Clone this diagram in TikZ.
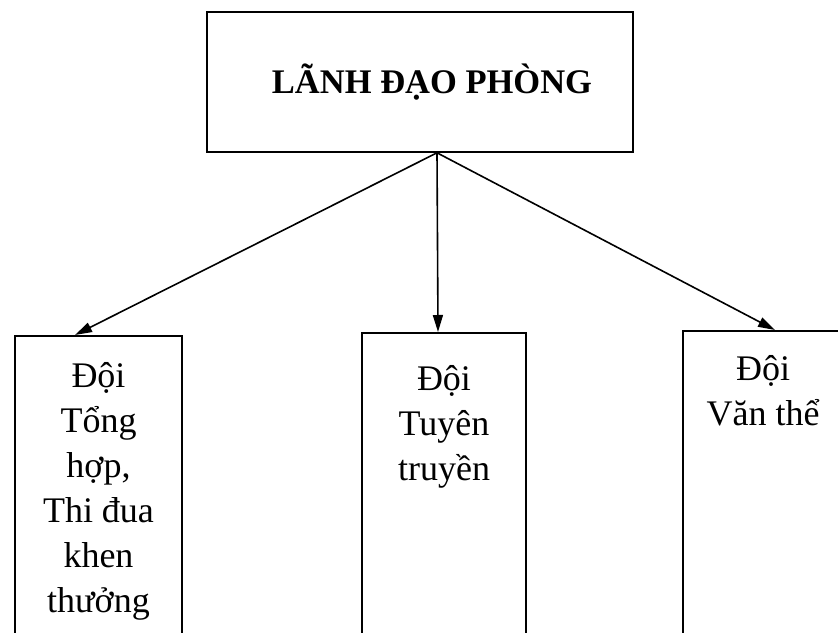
\documentclass[tikz,border=0pt]{standalone}
\usepackage{fontspec}
\setmainfont{Liberation Serif}
\usetikzlibrary{positioning,arrows.meta}

\begin{document}
\begin{tikzpicture}[x=1pt,y=1pt,line width=1.6pt,
    lead/.style={draw,rectangle,minimum width=426pt,minimum height=140pt,inner sep=0pt,font=\fontsize{34.5}{40}\selectfont\bfseries},
    team/.style={draw,rectangle,minimum height=330pt,inner sep=0pt},
    teamtext/.style={align=center,inner sep=0pt,font=\fontsize{36}{45}\selectfont}]
			\useasboundingbox (0,0) rectangle (838,632);
			\clip (0,0) rectangle (838,632);
			\node[lead] (phong)at(420,550) {\hspace{24pt}LÃNH ĐẠO PHÒNG};
			\node[team,minimum width=167pt,anchor=north] (tonghop)at(98.5,297) {};
			\node[team,minimum width=164pt,anchor=north] (tuyen)at(444,300) {};
			\node[team,minimum width=160pt,anchor=north] (vanthe)at(763,302) {};
			\node[teamtext,below=27pt of tonghop.north] (tonghoptext) {Đội\\Tổng\\hợp,\\Thi đua\\khen\\thưởng};
			\node[teamtext,below=33pt of tuyen.north] (tuyentext) {Đội\\Tuyên\\truyền};
			\node[teamtext,below=25pt of vanthe.north] (vanthetext) {Đội\\Văn thể};
			\coordinate (apex) at ([xshift=17pt]phong.south);
			\draw[->,>={Triangle[length=17pt,width=10pt]}] (apex) -- ([xshift=-23.5pt]tonghop.north);
			\draw[->,>={Triangle[length=17pt,width=10pt]}] (apex) -- ([xshift=-6pt]tuyen.north);
			\draw[->,>={Triangle[length=17pt,width=10pt]}] (apex) -- ([xshift=12pt]vanthe.north);
\end{tikzpicture}
\end{document}
